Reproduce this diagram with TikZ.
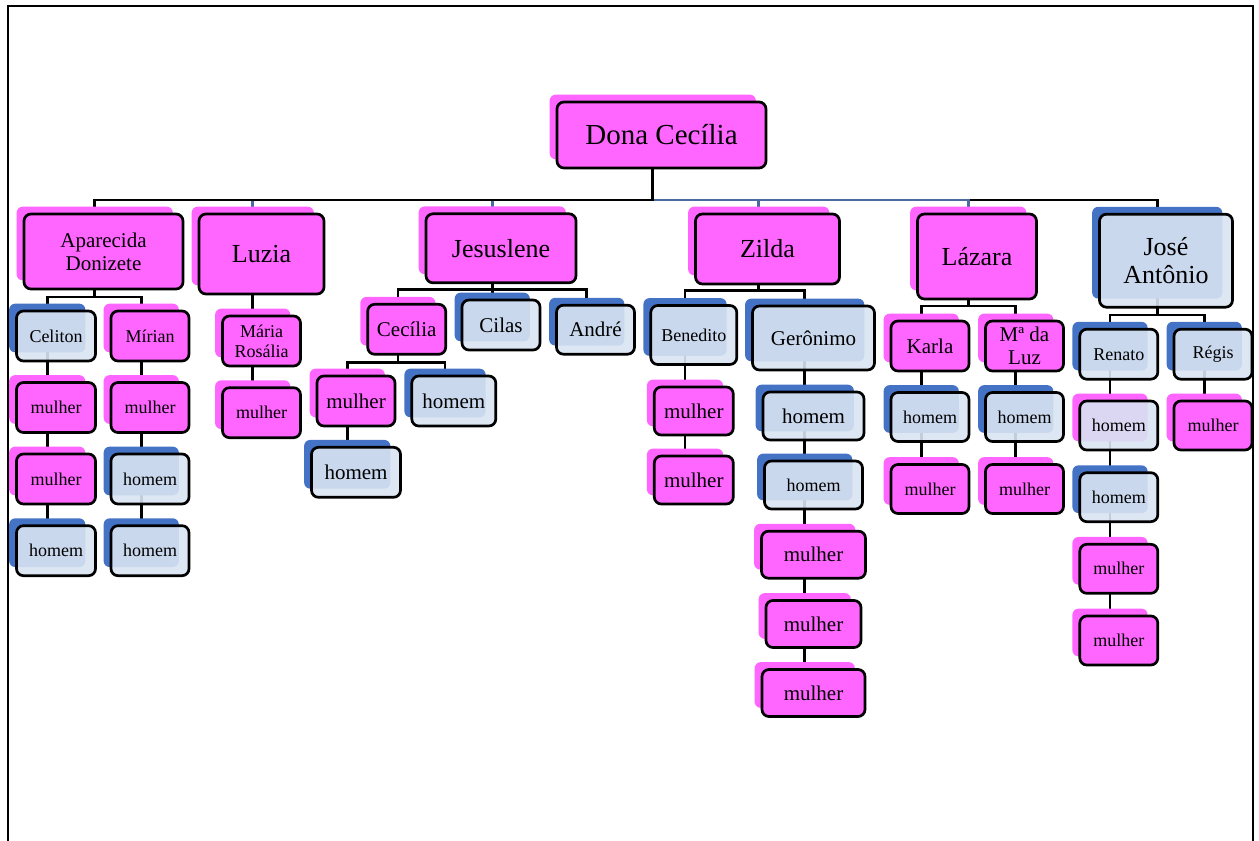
\documentclass[tikz,border=0pt]{standalone}
\usepackage{fontspec}
\setmainfont{Liberation Serif}

\definecolor{pinkfront}{RGB}{255,102,255}
\definecolor{pinkback}{RGB}{255,102,255}
\definecolor{bluefront}{RGB}{216,228,242}
\definecolor{blueback}{RGB}{68,114,196}
\definecolor{linkblue}{RGB}{74,106,160}

\pgfdeclarelayer{links}
\pgfdeclarelayer{background}
\pgfsetlayers{links,background,main}

\tikzstyle{person}=[draw,line width=2.7pt,rounded corners=7pt,align=center,inner sep=2pt,text opacity=1]
\tikzstyle{woman}=[person,fill=pinkfront]
\tikzstyle{man}=[person,fill=bluefront,fill opacity=0.9]
\tikzstyle{mixed}=[man]
\tikzstyle{backbox woman}=[fill=pinkback]
\tikzstyle{backbox man}=[fill=blueback]
\tikzstyle{backbox mixed}=[fill=pinkback]
\tikzstyle{link}=[draw,line width=2.7pt]
\tikzstyle{pageframe}=[draw,line width=2pt]
\tikzstyle{rootfont}=[font=\fontsize{29}{32}\selectfont]
\tikzstyle{bigfont}=[font=\fontsize{26}{28.6}\selectfont]
\tikzstyle{midfont}=[font=\fontsize{21}{23}\selectfont]
\tikzstyle{smallfont}=[font=\fontsize{18}{20}\selectfont]

\begin{document}
\begin{tikzpicture}[x=1pt,y=-1pt]
    \useasboundingbox (0,0) rectangle (1259,841);
    \path[pageframe] (7.5,841) -- (7.5,6) -- (1252.5,6) -- (1252.5,841);
    % First the people, each with its box behind
    \foreach \pos/\name/\w/\h/\kind/\fnt/\txt in {
        {(661.5,135)/dona/209/66/woman/rootfont/Dona Cecília},
        {(103.5,251.5)/aparecida/159/75/woman/midfont/Aparecida\\Donizete},
        {(261.5,254)/luzia/125/80/woman/bigfont/Luzia},
        {(501,248.3)/jesuslene/150/69/woman/bigfont/Jesuslene},
        {(767.5,249)/zilda/144/70/woman/bigfont/Zilda},
        {(977,256.5)/lazara/119/85/woman/bigfont/Lázara},
        {(1166,260.7)/jose/133/93/man/bigfont/José\\Antônio},
        {(56,336)/celiton/79/50/man/smallfont/Celiton},
        {(56,407.5)/cel1/79/50/woman/smallfont/mulher},
        {(56,479)/cel2/79/50/woman/smallfont/mulher},
        {(56,550.7)/cel3/79/50/man/smallfont/homem},
        {(150,336)/mirian/78/50/woman/smallfont/Mírian},
        {(150,407.5)/mir1/78/50/woman/smallfont/mulher},
        {(150,479)/mir2/78/50/man/smallfont/homem},
        {(150,550.7)/mir3/78/50/man/smallfont/homem},
        {(261.5,341)/maria/78/50/woman/smallfont/Mária\\Rosália},
        {(261.5,412.7)/maria1/78/50/woman/smallfont/mulher},
        {(406.7,329.3)/cecilia/78/50/woman/midfont/Cecília},
        {(501,325)/cilas/78/50/man/midfont/Cilas},
        {(595.5,329.7)/andre/78/49/man/midfont/André},
        {(356,401)/cecM/78/50/woman/midfont/mulher},
        {(453.8,401)/cecH/84/50/man/midfont/homem},
        {(356,472.3)/cecMH/89/50/man/midfont/homem},
        {(693.8,335)/benedito/86/59/man/smallfont/Benedito},
        {(693.8,411)/bene1/79/48/woman/midfont/mulher},
        {(693.8,480)/bene2/79/48/woman/midfont/mulher},
        {(813.5,338)/geronimo/122/64/man/midfont/Gerônimo},
        {(813.5,416)/gero1/101/48/man/midfont/homem},
        {(813.5,485)/gero2/98/48/man/smallfont/homem},
        {(813.5,554.7)/gero3/104/47/woman/midfont/mulher},
        {(813.5,624)/gero4/95/47/woman/midfont/mulher},
        {(813.5,693)/gero5/103/47/woman/midfont/mulher},
        {(930,346)/karla/78/50/woman/midfont/Karla},
        {(930,417)/karla1/78/49/man/smallfont/homem},
        {(930,489)/karla2/78/49/woman/smallfont/mulher},
        {(1024.5,346)/luz/78/50/woman/midfont/Mª da\\Luz},
        {(1024.5,417)/luz1/78/49/man/smallfont/homem},
        {(1024.5,489)/luz2/78/49/woman/smallfont/mulher},
        {(1118.8,354.2)/renato/78/50/man/smallfont/Renato},
        {(1118.8,425.5)/ren1/78/49/mixed/smallfont/homem},
        {(1118.8,497.2)/ren2/78/49/man/smallfont/homem},
        {(1118.8,568.8)/ren3/78/49/woman/smallfont/mulher},
        {(1118.8,640.5)/ren4/78/49/woman/smallfont/mulher},
        {(1213,354.2)/regis/78/50/man/smallfont/Régis},
        {(1213,425.5)/regis1/78/49/woman/smallfont/mulher}}
    {
        \node[\kind,\fnt,minimum width=\w pt,minimum height=\h pt] (\name) at \pos {\txt};
        \coordinate (\name-b) at ([xshift=-8.75pt,yshift=8pt]\name.center);
        \begin{pgfonlayer}{background}
            \path[backbox \kind,rounded corners=6pt] ([xshift=-6pt,yshift=6pt]\name.north west) rectangle ([xshift=-11.5pt,yshift=10pt]\name.south east);
        \end{pgfonlayer}
    }
    % Then the lines between them, under everything
    \begin{pgfonlayer}{links}
        \foreach \child/\col in {jose/black,zilda/linkblue,lazara/linkblue,luzia/linkblue,jesuslene/linkblue,aparecida/black}
            \path[link,draw=\col] (dona-b) -- ++(0,73) -| (\child-b);
        \foreach \parent/\drop/\child in {aparecida/53.5/celiton,aparecida/53.5/mirian,
            celiton/0/cel1,cel1/0/cel2,cel2/0/cel3,mirian/0/mir1,mir1/0/mir2,mir2/0/mir3,
            luzia/0/maria,maria/0/maria1,
            jesuslene/49/cecilia,jesuslene/49/cilas,jesuslene/49/andre,
            cecilia/41/cecM,cecilia/41/cecH,cecM/0/cecMH,
            zilda/49.7/benedito,zilda/49.7/geronimo,benedito/0/bene1,bene1/0/bene2,
            geronimo/0/gero1,gero1/0/gero2,gero2/0/gero3,gero3/0/gero4,gero4/0/gero5,
            lazara/57.5/karla,lazara/57.5/luz,karla/0/karla1,karla1/0/karla2,luz/0/luz1,luz1/0/luz2,
            jose/62.3/renato,jose/62.3/regis,renato/0/ren1,ren1/0/ren2,ren2/0/ren3,ren3/0/ren4,regis/0/regis1}
            \path[link] (\parent-b) -- ++(0,\drop) -| (\child-b);
    \end{pgfonlayer}
\end{tikzpicture}
\end{document}
